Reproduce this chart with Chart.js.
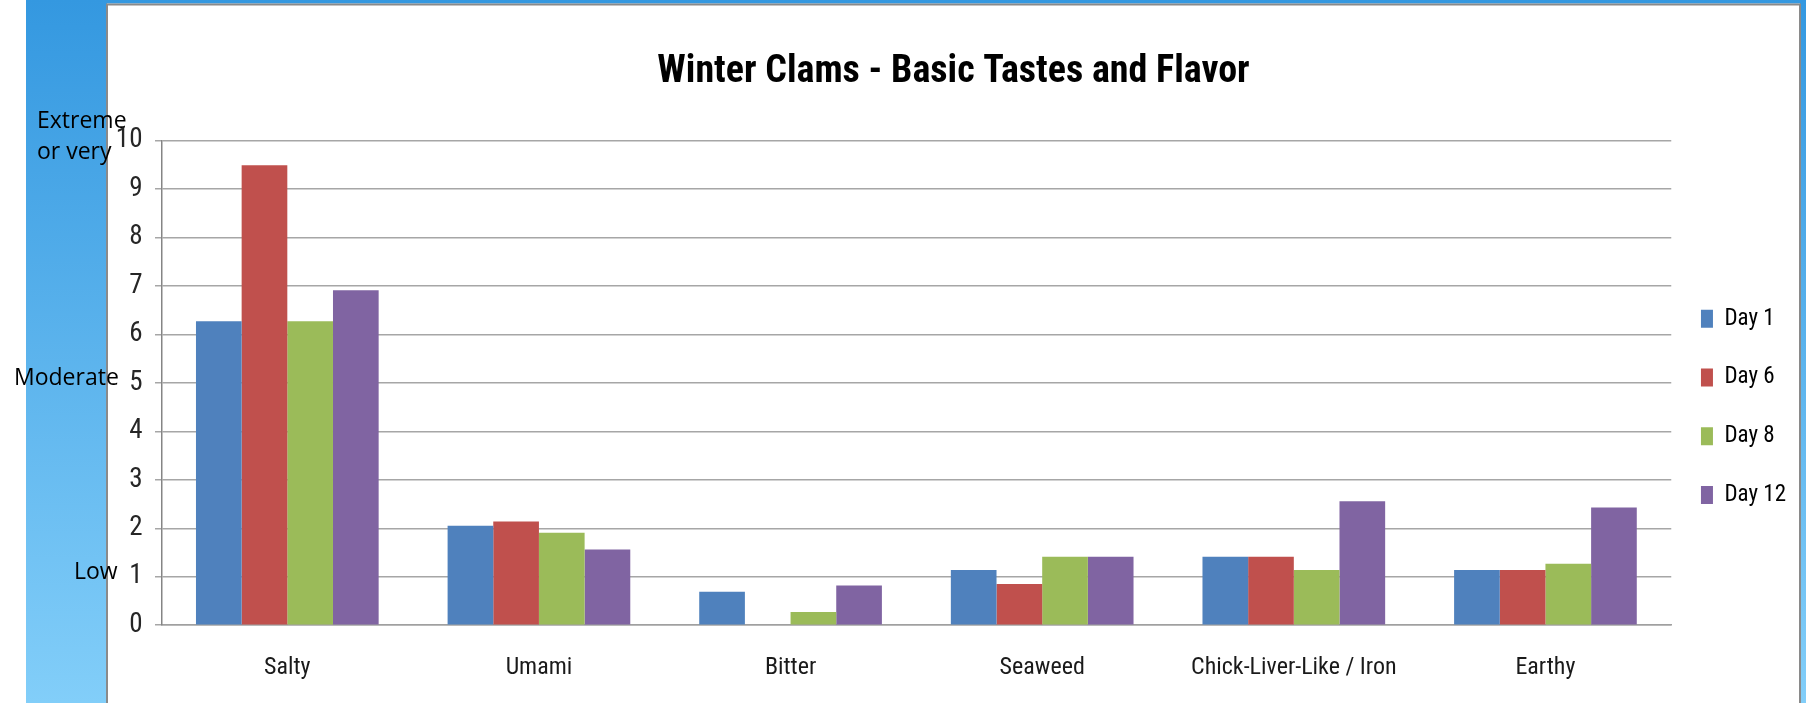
<!DOCTYPE html>
<html>
<head>
<meta charset="utf-8">
<title>Winter Clams - Basic Tastes and Flavor</title>
<script src="https://cdn.jsdelivr.net/npm/chart.js@4.4.1/dist/chart.umd.min.js"></script>
<style>
    html, body { margin: 0; padding: 0; background: #fff; }
    #chartBox { position: relative; width: 1806px; height: 703px; }
</style>
</head>
<body>
<div id="chartBox"><canvas id="tastesBar"></canvas></div>
<script>
// data
const categories = ['Salty', 'Umami', 'Bitter', 'Seaweed', 'Chick-Liver-Like / Iron', 'Earthy'];
const seriesNames = ['Day 1', 'Day 6', 'Day 8', 'Day 12'];
const day1 = [6.27, 2.05, 0.69, 1.14, 1.41, 1.14];
const day6 = [9.49, 2.14, 0, 0.85, 1.41, 1.14];
const day8 = [6.27, 1.91, 0.27, 1.41, 1.14, 1.27];
const day12 = [6.91, 1.56, 0.82, 1.41, 2.56, 2.43];
const yTicks = [0, 1, 2, 3, 4, 5, 6, 7, 8, 9, 10];
const sideLabels = ['Extreme\nor very', 'Moderate', 'Low'];
const sideLabelValues = [10, 5, 1];

const seriesColors = ['#4F81BD', '#C0504D', '#9BBB59', '#8064A2'];
const narrow = '"Liberation Sans Narrow", "Arial Narrow", "Roboto Condensed", "DejaVu Sans Condensed", sans-serif';

//#region plugins

// slide background: blue band on the left, frame around the chart picture
const slideBackground = {
    id: 'slideBackground',
    beforeDraw(chart) {
        const {ctx, width, height} = chart;
        const frameL = 107, frameR = 1800, frameT = 4.5;
        ctx.save();
        ctx.fillStyle = '#fff';
        ctx.fillRect(0, 0, width, height);
        const grad = ctx.createLinearGradient(0, 0, 0, height);
        grad.addColorStop(0, '#3498e0');
        grad.addColorStop(1, '#82cef9');
        ctx.fillStyle = grad;
        ctx.fillRect(26, 0, frameL - 26, height);
        ctx.fillRect(26, 0, width - 26, frameT - 1);
        ctx.fillRect(frameR, 0, width - frameR, height);
        ctx.strokeStyle = '#8a8a8a';
        ctx.lineWidth = 2;
        ctx.beginPath();
        ctx.moveTo(frameL, height);
        ctx.lineTo(frameL, frameT);
        ctx.lineTo(frameR, frameT);
        ctx.lineTo(frameR, height);
        ctx.stroke();
        ctx.restore();
    }
};

// the title is centred on the framed picture, not on the plot;
// the legend sits a little closer to the plot than its padding gives
const nudgeBoxes = {
    id: 'nudgeBoxes',
    afterLayout(chart) {
        if (chart.titleBlock) {
            chart.titleBlock.left = 107;
            chart.titleBlock.right = 1800;
        }
        if (chart.legend) {
            chart.legend.left -= 6;
            chart.legend.right -= 6;
        }
    }
};

// "Extreme / Moderate / Low" words typed on the slide next to the axis
const sideWords = {
    id: 'sideWords',
    afterDraw(chart) {
        const {ctx} = chart;
        const y = chart.scales.y;
        const xs = [37, 14, 74];
        ctx.save();
        ctx.font = '23px "Open Sans", "Noto Sans", sans-serif';
        ctx.fillStyle = '#000';
        ctx.textAlign = 'left';
        ctx.textBaseline = 'middle';
        sideLabels.forEach((text, i) => {
            const lines = text.split('\n');
            const mid = y.getPixelForValue(sideLabelValues[i]) - 4;
            lines.forEach((line, k) => {
                ctx.fillText(line, xs[i], mid + (k - (lines.length - 1) / 2) * 31);
            });
        });
        ctx.restore();
    }
};

//#endregion

const data = {
    labels: categories,
    datasets: [day1, day6, day8, day12].map((values, i) => ({
        label: seriesNames[i],
        data: values,
        backgroundColor: seriesColors[i],
        borderWidth: 0,
        categoryPercentage: 0.726,
        barPercentage: 1.0
    }))
};

// Config Block
const config = {
    type: 'bar',
    data: data,
    plugins: [slideBackground, nudgeBoxes, sideWords],
    options: {
        responsive: true,
        maintainAspectRatio: false,
        animation: false,
        layout: {
            padding: { left: 0, top: 0, right: 4, bottom: -7 }
        },
        plugins: {
            title: {
                display: true,
                text: 'Winter Clams - Basic Tastes and Flavor',
                color: '#000',
                font: { family: narrow, size: 38, weight: 'bold', lineHeight: 1.2 },
                padding: { top: 50, bottom: 45 }
            },
            legend: {
                position: 'right',
                align: 'start',
                fullSize: false,
                title: {
                    display: true,
                    text: '',
                    font: { size: 10, lineHeight: 1 },
                    padding: { top: 61, bottom: 60 }
                },
                labels: {
                    boxWidth: 12,
                    boxHeight: 18,
                    padding: 35.7,
                    color: '#000',
                    font: { family: narrow, size: 23 }
                }
            },
            tooltip: { enabled: false }
        },
        scales: {
            x: {
                grid: { display: false, drawTicks: false },
                border: { display: true, color: '#a0a0a0', width: 1.5 },
                ticks: {
                    color: '#1a1a1a',
                    padding: 28,
                    maxRotation: 0,
                    autoSkip: false,
                    font: { family: narrow, size: 24 }
                }
            },
            y: {
                min: 0,
                max: 10,
                afterBuildTicks: scale => {
                    scale.ticks = yTicks.map(v => ({ value: v }));
                },
                afterFit: scale => {
                    scale.width = 161.5;
                },
                grid: { color: '#a6a6a6', lineWidth: 1.5, tickLength: 6.5 },
                border: { display: true, color: '#858585', width: 1.5 },
                ticks: {
                    color: '#262626',
                    padding: 12.5,
                    font: { family: narrow, size: 27 }
                }
            }
        }
    }
};

// Render init block
const myChart = new Chart(document.getElementById('tastesBar'), config);
</script>
</body>
</html>
